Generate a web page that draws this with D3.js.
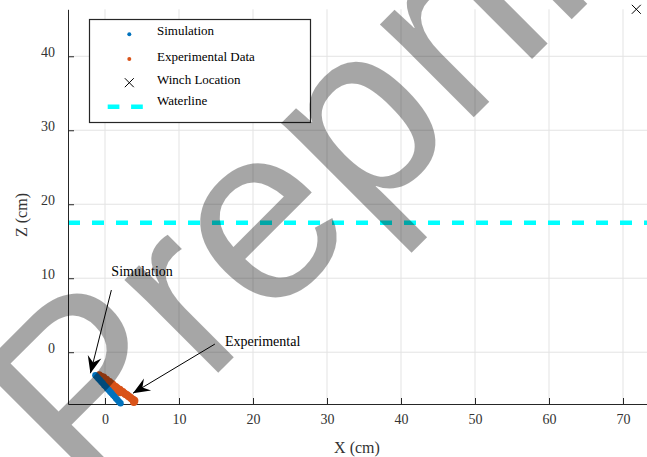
<!DOCTYPE html>
<meta charset="utf-8">
<script src="https://cdn.jsdelivr.net/npm/d3@7"></script>
<style>
    body { margin: 0; background: #fff; }
    text { font-family: "Liberation Serif", "Times New Roman", serif; }
</style>
<div id="base"></div>
<script>
    // simulated tow-point track (cm)
    var simX = [-1.3, -1.1, -0.9, -0.7, -0.5, -0.3, -0.1, 0.1, 0.3, 0.5, 0.7, 0.9, 1.1, 1.3, 1.5, 1.7, 1.9, 2.1];
    var simZ = [-3.1, -3.3, -3.55, -3.75, -4.0, -4.2, -4.45, -4.65, -4.9, -5.1, -5.35, -5.55, -5.8, -6.0, -6.25, -6.45, -6.7, -6.9];

    // measured track (cm)
    var expX = [-0.8, -0.5, -0.2, 0.0, 0.2, 0.4, 0.6, 0.8, 1.0, 1.2, 1.4, 1.6, 1.8, 2.0, 2.2, 2.4, 2.6, 2.8, 3.0, 3.2, 3.4, 3.6, 3.8, 4.0,
        -0.4, 0.0, 0.4, 0.8, 1.2, 1.6, 2.0, 3.9];
    var expZ = [-3.1, -3.3, -3.4, -3.65, -3.7, -3.95, -4.0, -4.25, -4.3, -4.55, -4.65, -4.8, -5.0, -5.05, -5.3, -5.35, -5.55, -5.7, -5.8, -6.0, -6.1, -6.3, -6.4, -6.55,
        -3.7, -4.0, -4.3, -4.6, -4.9, -5.2, -5.45, -6.75];

    var winchX = [71.8];
    var winchZ = [46.35];
    var waterZ = 17.5;

    var xTicks = [0, 10, 20, 30, 40, 50, 60, 70];
    var zTicks = [0, 10, 20, 30, 40];
    var legendLabels = ["Simulation", "Experimental Data", "Winch Location", "Waterline"];

    // annotation text / arrows (data coords)
    var noteLabels = ["Simulation", "Experimental"];
    var noteText = [[0.86, 10.35], [16.2, 0.9]];
    var noteFrom = [[0.86, 8.4], [14.85, 1.1]];
    var noteTo = [[-1.97, -2.84], [3.78, -5.54]];

    var width = 647, height = 457;
    var blue = "#0072BD", orange = "#D95319", ink = "#262626";

    var svg = d3.select("#base")
        .append("svg")
        .attr("width", width)
        .attr("height", height);

    var x = d3.scaleLinear().domain([-5, 75]).range([68, 660]);
    var z = d3.scaleLinear().domain([-7, 46.35]).range([404, 9.3]);

    // grid
    var grid = svg.append("g").attr("stroke", "#e3e3e3").attr("stroke-width", 1);
    grid.selectAll(".gx").data(xTicks).enter().append("line")
        .attr("x1", function (d) { return x(d); })
        .attr("x2", function (d) { return x(d); })
        .attr("y1", z.range()[0]).attr("y2", z.range()[1]);
    grid.selectAll(".gz").data(zTicks).enter().append("line")
        .attr("y1", function (d) { return z(d); })
        .attr("y2", function (d) { return z(d); })
        .attr("x1", x.range()[0]).attr("x2", x.range()[1]);

    // waterline
    svg.append("line")
        .attr("x1", x(-5)).attr("x2", x(75))
        .attr("y1", z(waterZ)).attr("y2", z(waterZ))
        .attr("stroke", "#00FFFF")
        .attr("stroke-width", 4.5)
        .attr("stroke-dasharray", "12,12");

    // axes
    var xAxis = svg.append("g")
        .attr("transform", "translate(0," + z(-7) + ")")
        .call(d3.axisBottom(x).tickValues(xTicks).tickSizeInner(-6).tickSizeOuter(0).tickPadding(10));
    var zAxis = svg.append("g")
        .attr("transform", "translate(" + x(-5) + ",0)")
        .call(d3.axisLeft(z).tickValues(zTicks).tickSizeInner(-6).tickSizeOuter(0).tickPadding(13));
    zAxis.selectAll("text").attr("dy", "0");
    [xAxis, zAxis].forEach(function (a) {
        a.select(".domain").attr("stroke", ink);
        a.selectAll(".tick line").attr("stroke", ink);
        a.selectAll("text")
            .attr("fill", "#333")
            .style("font-size", "14px")
            .style("font-family", "'Liberation Serif', serif");
    });

    svg.append("text")
        .attr("x", 357).attr("y", 453)
        .attr("text-anchor", "middle")
        .attr("font-size", "16px")
        .attr("fill", "#333")
        .text("X (cm)");
    svg.append("text")
        .attr("transform", "translate(27,215) rotate(-90)")
        .attr("text-anchor", "middle")
        .attr("font-size", "16px")
        .attr("fill", "#333")
        .text("Z (cm)");

    // data
    svg.append("g").selectAll("circle")
        .data(d3.range(expX.length))
        .enter().append("circle")
        .attr("cx", function (i) { return x(expX[i]); })
        .attr("cy", function (i) { return z(expZ[i]); })
        .attr("r", 3.8)
        .attr("fill", orange);
    svg.append("g").selectAll("circle")
        .data(d3.range(simX.length))
        .enter().append("circle")
        .attr("cx", function (i) { return x(simX[i]); })
        .attr("cy", function (i) { return z(simZ[i]); })
        .attr("r", 3.2)
        .attr("fill", blue);

    var cross = function (g, cx, cy, s) {
        g.append("path")
            .attr("d", "M" + (cx - s) + "," + (cy - s) + "L" + (cx + s) + "," + (cy + s) +
                "M" + (cx - s) + "," + (cy + s) + "L" + (cx + s) + "," + (cy - s))
            .attr("stroke", "#000").attr("stroke-width", 1).attr("fill", "none");
    };
    cross(svg, x(winchX[0]), z(winchZ[0]), 4.5);

    // annotations
    svg.append("defs").append("marker")
        .attr("id", "head")
        .attr("markerUnits", "userSpaceOnUse")
        .attr("markerWidth", 20).attr("markerHeight", 20)
        .attr("viewBox", "-18 -9 20 18")
        .attr("refX", 0).attr("refY", 0)
        .attr("orient", "auto")
        .append("path")
        .attr("d", "M0,0 L-17,-7 L-11,0 L-17,7 Z")
        .attr("fill", "#000");

    noteLabels.forEach(function (lab, i) {
        svg.append("line")
            .attr("x1", x(noteFrom[i][0])).attr("y1", z(noteFrom[i][1]))
            .attr("x2", x(noteTo[i][0])).attr("y2", z(noteTo[i][1]))
            .attr("stroke", "#000").attr("stroke-width", 1)
            .attr("marker-end", "url(#head)");
        svg.append("text")
            .attr("x", x(noteText[i][0])).attr("y", z(noteText[i][1]))
            .attr("font-size", "14px")
            .attr("fill", "#000")
            .text(lab);
    });

    // legend
    var lg = svg.append("g");
    lg.append("rect")
        .attr("x", 89.5).attr("y", 19.5).attr("width", 221).attr("height", 103)
        .attr("fill", "#fff").attr("stroke", ink).attr("stroke-width", 1.2);
    var textY = [34.5, 61.2, 83.5, 105.2];
    var markY = [34.3, 59, 82.7, 106.7];
    lg.selectAll(".lt").data(legendLabels).enter().append("text")
        .attr("x", 157)
        .attr("y", function (d, i) { return textY[i]; })
        .attr("font-size", "13px")
        .attr("fill", "#000")
        .text(function (d) { return d; });
    lg.append("circle").attr("cx", 129.3).attr("cy", markY[0]).attr("r", 2).attr("fill", blue);
    lg.append("circle").attr("cx", 129.3).attr("cy", markY[1]).attr("r", 2).attr("fill", orange);
    cross(lg, 129.3, markY[2], 4.5);
    lg.append("line")
        .attr("x1", 107.7).attr("x2", 143)
        .attr("y1", markY[3]).attr("y2", markY[3])
        .attr("stroke", "#00FFFF").attr("stroke-width", 4.5)
        .attr("stroke-dasharray", "11.7,11.7");

    // watermark
    svg.append("text")
        .attr("transform", "translate(88,503) rotate(-45)")
        .style("font-family", "'Liberation Sans', Arial, sans-serif")
        .attr("font-size", "250px")
        .attr("fill", "#000")
        .attr("fill-opacity", 0.35)
        .text("Preprint");
</script>
